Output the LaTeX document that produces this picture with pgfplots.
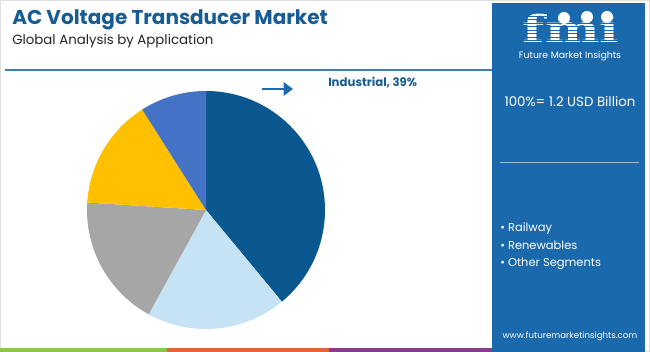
\documentclass[border=0pt]{standalone}
\usepackage{pgfplots}
\usepackage{pgfplotstable}
\pgfplotsset{compat=1.18}
\usetikzlibrary{arrows.meta}
\usepackage{fontspec}
\setmainfont{Poppins}
\newfontfamily\logofont{DejaVu Serif}

\definecolor{slice0}{HTML}{0B5890}
\definecolor{slice1}{HTML}{C5E3F4}
\definecolor{slice2}{HTML}{A6A6A6}
\definecolor{slice3}{HTML}{FFC000}
\definecolor{slice4}{HTML}{4472C4}
\definecolor{panel}{HTML}{1B69AD}
\definecolor{titleblue}{HTML}{175C94}
\definecolor{hline}{HTML}{3F7FB8}
\definecolor{arrowblue}{HTML}{1F6BAE}
\definecolor{sgreen}{HTML}{8DC34F}
\definecolor{sorange}{HTML}{E0633A}
\definecolor{spurple}{HTML}{8C3A8E}

\pgfplotstableread{
seg value
Industrial 39
Railway 19
Renewables 18
Other 15
Rest 9
}\piedata

\begin{document}
\begin{tikzpicture}[x=0.75pt,y=0.75pt]
\useasboundingbox (0,0) rectangle (650,352);
\fill[white] (0,0) rectangle (650,352);
\draw[black!12, line width=0.6pt] (0.4,0.4) rectangle (649.6,351.6);

% cumulative angles (clockwise from 12 o'clock)
\gdef\cum{0}
\foreach \i in {0,...,4}{
  \pgfplotstablegetelem{\i}{value}\of\piedata
  \pgfmathsetmacro\s{90-3.6*\cum}
  \pgfmathsetmacro\newcum{\cum+\pgfplotsretval}
  \pgfmathsetmacro\e{90-3.6*\newcum}
  \expandafter\xdef\csname sa\i\endcsname{\s}
  \expandafter\xdef\csname ea\i\endcsname{\e}
  \xdef\cum{\newcum}
}

% title
\node[anchor=base west, inner sep=0pt, text=titleblue, font=\fontsize{15}{18}\selectfont\bfseries] at (12,327) {AC Voltage Transducer Market};
\node[anchor=base west, inner sep=0pt, text=black!85, font=\fontsize{10}{12}\selectfont] at (12,307) {Global Analysis by Application};
\draw[hline, line width=1.1pt] (5,282) -- (492,282);

% pie
\coordinate (pc) at (206,142);
\begin{axis}[
  at={(pc)}, anchor=center,
  x=89.25pt, y=89.25pt,
  xmin=-1, xmax=1, ymin=-1, ymax=1,
  hide axis, clip=false,
]
\pgfplotsinvokeforeach{0,...,4}{
  \fill[slice#1] (axis cs:0,0) -- (axis cs:{cos(\csname sa#1\endcsname)},{sin(\csname sa#1\endcsname)})
     arc[start angle=\csname sa#1\endcsname, end angle=\csname ea#1\endcsname, radius=89.25pt] -- cycle;
}
\end{axis}

% arrow and label
\draw[arrowblue, line width=2.2pt, -{Triangle[length=7pt,width=10pt]}] (262,263) -- (293,263);
\node[anchor=base west, inner sep=0pt, text=titleblue, font=\fontsize{8.8}{11}\selectfont\bfseries] at (328,265) {Industrial, 39\%};

% right panel
\fill[panel] (492,0) rectangle (645,349);
\node[anchor=base, inner sep=0pt, text depth=0pt, text=white, font=\logofont\bfseries\fontsize{28}{30}\selectfont] at (571,309) {\scalebox{1.38}[1]{fmi}};
\foreach \yy in {16,19.5,...,44} {\draw[panel, line width=0.55pt] (510,352-\yy) -- (630,352-\yy);}
\fill[white] (564,334) circle (6);
\fill[white] (587,335) circle (6);
\fill[white] (607,335) circle (6);
\node[anchor=base, inner sep=0pt, text=white, font=\fontsize{7}{8}\selectfont] at (570,293) {Future Market Insights};
\node[anchor=base, inner sep=0pt, text=white, font=\fontsize{10}{12}\selectfont] at (570,245) {100\%= 1.2 USD Billion};
\draw[white!55!panel, line width=1.1pt] (500,189.3) -- (639,189.3);
\node[anchor=base west, inner sep=0pt, text=white, font=\fontsize{8.6}{10}\selectfont] at (500,120.3) {• Railway};
\node[anchor=base west, inner sep=0pt, text=white, font=\fontsize{8.6}{10}\selectfont] at (500,102.5) {• Renewables};
\node[anchor=base west, inner sep=0pt, text=white, font=\fontsize{8.6}{10}\selectfont] at (500,85.3) {• Other Segments};
\node[anchor=base, inner sep=0pt, text=white, font=\fontsize{6.5}{8}\selectfont] at (570,13) {www.futuremarketinsights.com};

% bottom stripes
\fill[sgreen] (0,0) rectangle (167,3.5);
\fill[sorange] (167,0) rectangle (329,3.5);
\fill[spurple] (329,0) rectangle (492,3.5);
\end{tikzpicture}
\end{document}
